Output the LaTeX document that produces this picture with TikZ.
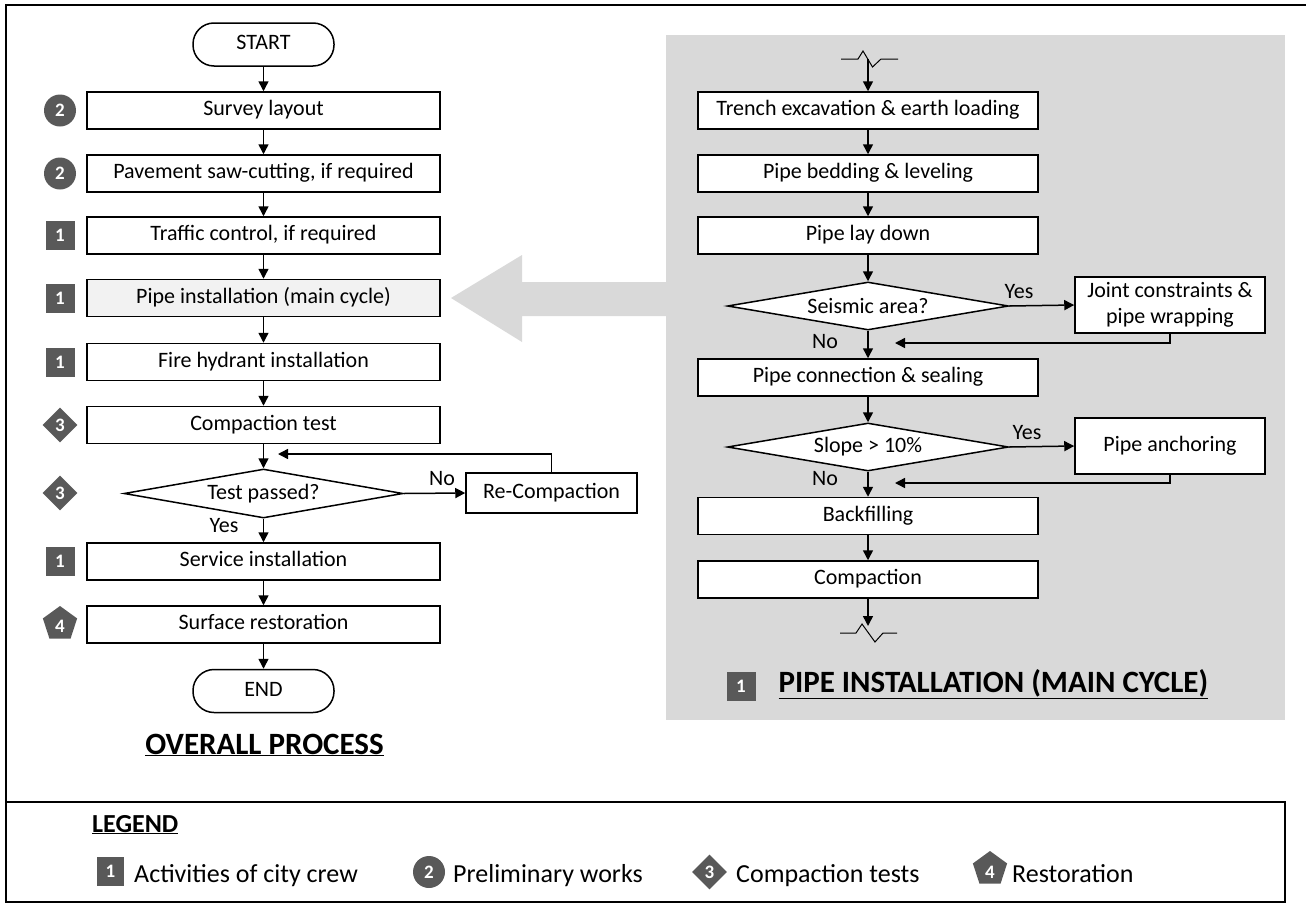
\documentclass[tikz,border=0pt]{standalone}
\usepackage{fontspec}
\setmainfont{Carlito}
\usetikzlibrary{shapes.geometric,arrows.meta}
\definecolor{badgegray}{HTML}{595959}
\definecolor{panelgray}{HTML}{D9D9D9}
\definecolor{lightfill}{HTML}{F2F2F2}
\newcommand{\bodyfont}{\fontsize{22}{26}\selectfont}
\newcommand{\badgefont}{\fontsize{19}{21}\selectfont\bfseries}
\begin{document}
\begin{tikzpicture}[x=1pt,y=-1pt,
  every node/.style={font=\bodyfont},
  arr/.style={line width=1.5pt,-{Triangle[length=10pt,width=10pt]}},
  lbox/.style={draw,line width=1.5pt,fill=white,minimum width=353pt,minimum height=37pt,inner sep=0pt,text height=15pt,text depth=5pt},
  rbox/.style={draw,line width=1.5pt,fill=white,minimum width=340pt,minimum height=37pt,inner sep=0pt,text height=15pt,text depth=5pt},
  sbox/.style={draw,line width=1.5pt,fill=white,minimum width=190pt,minimum height=56pt,inner sep=0pt,align=center},
  term/.style={draw,line width=1.5pt,fill=white,rounded corners=21pt,minimum width=141pt,minimum height=43pt,inner sep=0pt,text height=15pt,text depth=5pt},
  dec/.style={draw,diamond,aspect=5.85,line width=1.5pt,fill=white,inner sep=0pt,minimum width=281pt,minimum height=48pt},
  bsq/.style={fill=badgegray,text=white,minimum size=29pt,inner sep=0pt,font=\badgefont},
  bcirc/.style={circle,fill=badgegray,text=white,minimum size=32pt,inner sep=0pt,font=\badgefont},
  bdia/.style={diamond,fill=badgegray,text=white,minimum size=35pt,inner sep=0pt,font=\badgefont},
  bpent/.style={regular polygon,regular polygon sides=5,fill=badgegray,minimum size=36pt,inner sep=0pt},
  pdigit/.style={text=white,inner sep=0pt,font=\badgefont},
  lbl/.style={inner sep=1pt},
  ttl/.style={font=\fontsize{31}{35}\selectfont\bfseries},
  leg/.style={font=\fontsize{26}{29}\selectfont,anchor=base west,inner sep=0pt}
]
\useasboundingbox (0,0) rectangle (1306,905);
% frame and panel
\draw[line width=1.3pt] (1306,5) -- (6,5) -- (6,802);
\fill[panelgray] (666,35) rectangle (1285,720);
\fill[panelgray] (451,298) -- (522,255) -- (522,282) -- (667,282) -- (667,316) -- (522,316) -- (522,342) -- cycle;

% left column
\node[term] (start) at (263.5,44.5) {START};
\node[lbox] (survey) at (263.5,110.5) {Survey layout};
\node[lbox] (saw) at (263.5,173.5) {Pavement saw-cutting, if required};
\node[lbox] (traffic) at (263.5,235.5) {Traffic control, if required};
\node[lbox,fill=lightfill] (pipe) at (263.5,298) {Pipe installation (main cycle)};
\node[lbox] (hydrant) at (263.5,362) {Fire hydrant installation};
\node[lbox] (ctest) at (263.5,425) {Compaction test};
\node[dec,minimum width=279pt,minimum height=49pt] (passed) at (263.5,493.5) {Test passed?};
\node[draw,line width=1.5pt,minimum width=171pt,minimum height=40pt,inner sep=0pt,text height=15pt,text depth=5pt] (recomp) at (551.5,493) {Re-Compaction};
\node[lbox] (service) at (263.5,561.5) {Service installation};
\node[lbox] (surface) at (263.5,624.5) {Surface restoration};
\node[term] (end) at (263.5,691) {END};
\node[ttl] (overall) at (264.5,745) {\underline{OVERALL PROCESS}};

\draw[arr] (start) -- (survey);
\draw[arr] (survey) -- (saw);
\draw[arr] (saw) -- (traffic);
\draw[arr] (traffic) -- (pipe);
\draw[arr] (pipe) -- (hydrant);
\draw[arr] (hydrant) -- (ctest);
\draw[arr] (ctest) -- (passed);
\draw[arr] (passed.east) -- (recomp.west);
\coordinate (fb) at (278,454);
\draw[arr] (recomp.north) |- (fb);
\draw[arr] (passed.south) -- (service.north);
\draw[arr] (service) -- (surface);
\draw[arr] (surface) -- (end);
\node[lbl] (no1) at (442,479) {No};
\node[lbl] (yes1) at (224,526) {Yes};

% left badges
\node[bcirc] (b1) at (60,110.5) {2};
\node[bcirc] (b2) at (60,173.5) {2};
\node[bsq] (b3) at (60,235.5) {1};
\node[bsq] (b4) at (60,298) {1};
\node[bsq] (b5) at (60,362) {1};
\node[bdia] (b6) at (60,425) {3};
\node[bdia] (b7) at (60,493) {3};
\node[bsq] (b8) at (60,561.5) {1};
\node[bpent] (b9) at (60,624) {};
\node[pdigit] (b9d) at (60,626) {4};

% right panel
\draw[line width=1pt] (841,59) -- (858,59) -- (863,51) -- (872.5,67) -- (881,59) -- (898,59);
\coordinate (ztop) at (868,59);
\node[rbox] (trench) at (868,110.5) {Trench excavation \& earth loading};
\node[rbox] (bedding) at (868,173.5) {Pipe bedding \& leveling};
\node[rbox] (lay) at (868,235.5) {Pipe lay down};
\node[dec] (seismic) at (868,306) {Seismic area?};
\node[sbox] (joint) at (1170,305) {Joint constraints \&\\pipe wrapping};
\node[rbox] (conn) at (868,377.5) {Pipe connection \& sealing};
\node[dec] (slope) at (868,447) {Slope > 10\%};
\node[sbox] (anchor) at (1170,446) {Pipe anchoring};
\node[rbox] (backfill) at (868,516) {Backfilling};
\node[rbox] (compaction) at (868,579.5) {Compaction};
\draw[line width=1pt] (840,633) -- (856,633) -- (862,624) -- (875,642) -- (883,633) -- (897,633);
\coordinate (zbot) at (868,626);

\draw[arr] (ztop) -- (trench.north);
\draw[arr] (trench) -- (bedding);
\draw[arr] (bedding) -- (lay);
\draw[arr] (lay.south) -- (seismic.north);
\draw[arr] (seismic.east) -- (joint.west);
\draw[arr] (seismic.south) -- (conn.north);
\coordinate (r1) at (895,343);
\draw[arr] (joint.south) |- (r1);
\draw[arr] (conn.south) -- (slope.north);
\draw[arr] (slope.east) -- (anchor.west);
\draw[arr] (slope.south) -- (backfill.north);
\coordinate (r2) at (895,483);
\draw[arr] (anchor.south) |- (r2);
\draw[arr] (backfill) -- (compaction);
\draw[arr] (compaction.south) -- (zbot);
\node[lbl] (yes2) at (1019,292) {Yes};
\node[lbl] (no2) at (825,342) {No};
\node[lbl] (yes3) at (1027,433) {Yes};
\node[lbl] (no3) at (825,479) {No};

\node[bsq] (bp) at (741,686.5) {1};
\node[ttl,anchor=west] (ptitle) at (775,684) {\underline{PIPE INSTALLATION (MAIN CYCLE)}};

% legend
\draw[line width=1.3pt] (6,802) rectangle (1285,902);
\node[font=\fontsize{26}{28}\selectfont\bfseries,anchor=base west,inner sep=0pt] (legt) at (92,832) {\underline{LEGEND}};
\node[bsq,minimum width=27pt] (lb1) at (110.5,871.5) {1};
\node[leg] (lt1) at (134,882) {Activities of city crew};
\node[bcirc] (lb2) at (429,872) {2};
\node[leg] (lt2) at (453,882) {Preliminary works};
\node[bdia] (lb3) at (709.5,872) {3};
\node[leg] (lt3) at (736,882) {Compaction tests};
\node[bpent] (lb4) at (990,869) {};
\node[pdigit] (lb4d) at (990,872) {4};
\node[leg] (lt4) at (1012,882) {Restoration};
\end{tikzpicture}
\end{document}
